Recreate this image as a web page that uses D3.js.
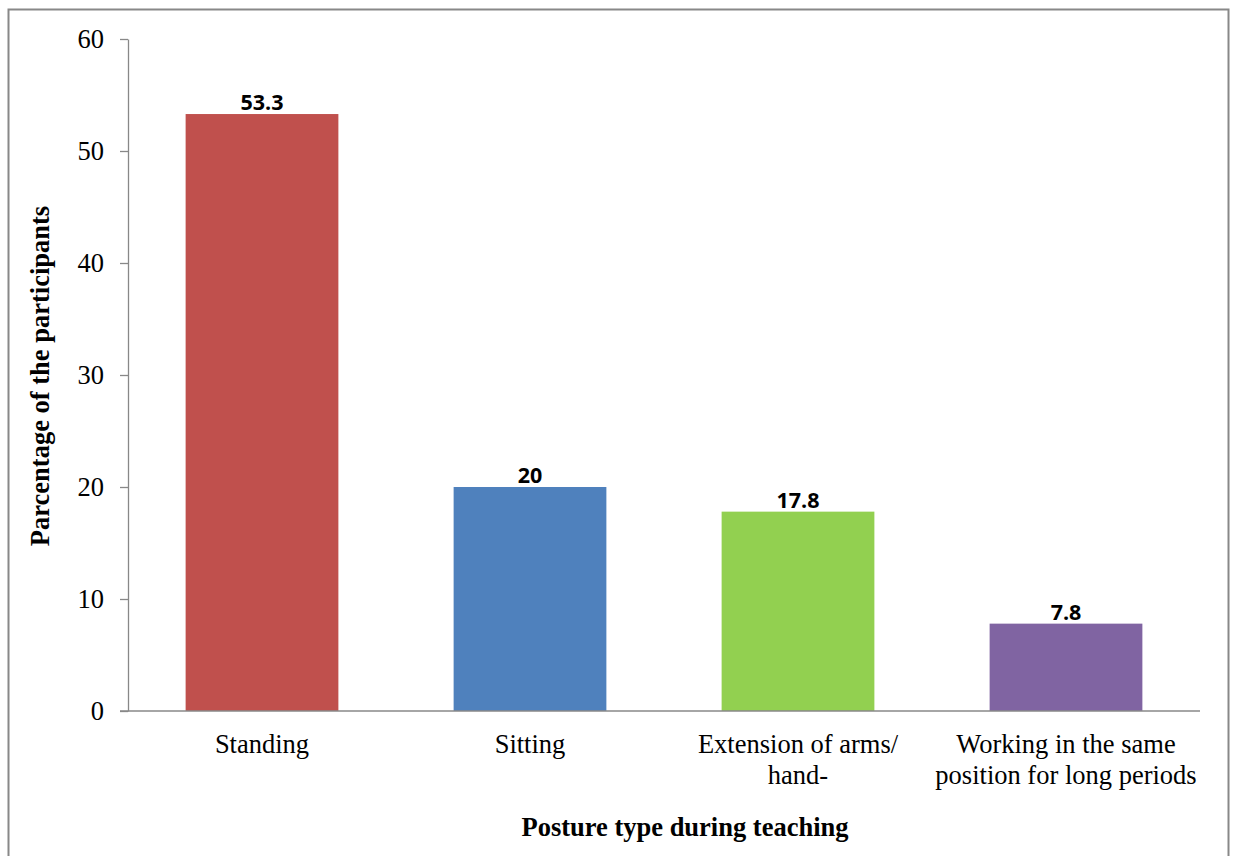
<!DOCTYPE html>
<html>
<head>
<meta charset="utf-8">
<script src="https://cdn.jsdelivr.net/npm/d3@7"></script>
<style>
  html, body { margin: 0; padding: 0; background: #fff; }
  svg { display: block; }
</style>
</head>
<body>
<svg id="chart" width="1235" height="856"></svg>
<script>
// Posture types and the share of participants reporting each
const categories = ["Standing", "Sitting", "Extension of arms/ hand-", "Working in the same position for long periods"];
const categoryLines = [["Standing"], ["Sitting"], ["Extension of arms/", "hand-"], ["Working in the same", "position for long periods"]];
const values = [53.3, 20, 17.8, 7.8];
const valueLabels = ["53.3", "20", "17.8", "7.8"];
const barColors = ["#C0504D", "#4F81BD", "#92D050", "#8064A2"];
const yTicks = [0, 10, 20, 30, 40, 50, 60];

const svg = d3.select("#chart");
const plot = { left: 128, right: 1200, top: 39, bottom: 711 };
const serif = "'Liberation Serif', 'Times New Roman', serif";

// outer frame
svg.append("rect")
  .attr("x", 8.5).attr("y", 9.5)
  .attr("width", 1220).attr("height", 860)
  .attr("fill", "none").attr("stroke", "#888").attr("stroke-width", 2);

const x = d3.scaleBand()
  .domain(categories)
  .range([plot.left, plot.right])
  .paddingInner(0.43)
  .paddingOuter(0.215);

const y = d3.scaleLinear().domain([0, 60]).range([plot.bottom, plot.top]);

// y axis
const yAxis = d3.axisLeft(y).tickValues(yTicks).tickSize(8).tickPadding(16).tickSizeOuter(0);
const gy = svg.append("g").attr("transform", `translate(${plot.left},0)`).call(yAxis);
gy.select(".domain").attr("stroke", "#888").attr("stroke-width", 1.3);
gy.selectAll(".tick line").attr("stroke", "#888").attr("stroke-width", 1.3);
gy.selectAll(".tick text")
  .attr("font-family", serif)
  .attr("font-size", 26.5).attr("fill", "#000");

// bars
svg.append("g").selectAll("rect")
  .data(values)
  .join("rect")
  .attr("x", (d, i) => x(categories[i]))
  .attr("y", d => y(d))
  .attr("width", x.bandwidth())
  .attr("height", d => y(0) - y(d))
  .attr("fill", (d, i) => barColors[i]);

// value labels
svg.append("g").selectAll("text")
  .data(values)
  .join("text")
  .attr("x", (d, i) => x(categories[i]) + x.bandwidth() / 2)
  .attr("y", d => y(d) - 4)
  .attr("text-anchor", "middle")
  .attr("font-family", "'Open Sans', 'Liberation Sans', sans-serif")
  .attr("font-weight", "bold")
  .attr("font-size", 21.5)
  .attr("fill", "#000")
  .text((d, i) => valueLabels[i]);

// x axis baseline
svg.append("line")
  .attr("x1", plot.left - 8).attr("x2", plot.right)
  .attr("y1", plot.bottom).attr("y2", plot.bottom)
  .attr("stroke", "#888").attr("stroke-width", 1.3);

// category labels
const catG = svg.append("g");
categories.forEach((c, i) => {
  const cx = x(c) + x.bandwidth() / 2;
  const t = catG.append("text")
    .attr("x", cx)
    .attr("y", 753)
    .attr("text-anchor", "middle")
    .attr("font-family", serif)
    .attr("font-size", 26.5)
    .attr("fill", "#000");
  categoryLines[i].forEach((line, j) => {
    t.append("tspan")
      .attr("x", cx)
      .attr("dy", j === 0 ? 0 : 31)
      .text(line);
  });
});

// axis titles
svg.append("text")
  .attr("x", 685)
  .attr("y", 836)
  .attr("text-anchor", "middle")
  .attr("font-family", serif)
  .attr("font-weight", "bold")
  .attr("font-size", 26.5)
  .text("Posture type during teaching");

svg.append("text")
  .attr("transform", `translate(49, ${(plot.top + plot.bottom) / 2 + 1}) rotate(-90)`)
  .attr("text-anchor", "middle")
  .attr("font-family", serif)
  .attr("font-weight", "bold")
  .attr("font-size", 26.5)
  .text("Parcentage of the participants");
</script>
</body>
</html>
